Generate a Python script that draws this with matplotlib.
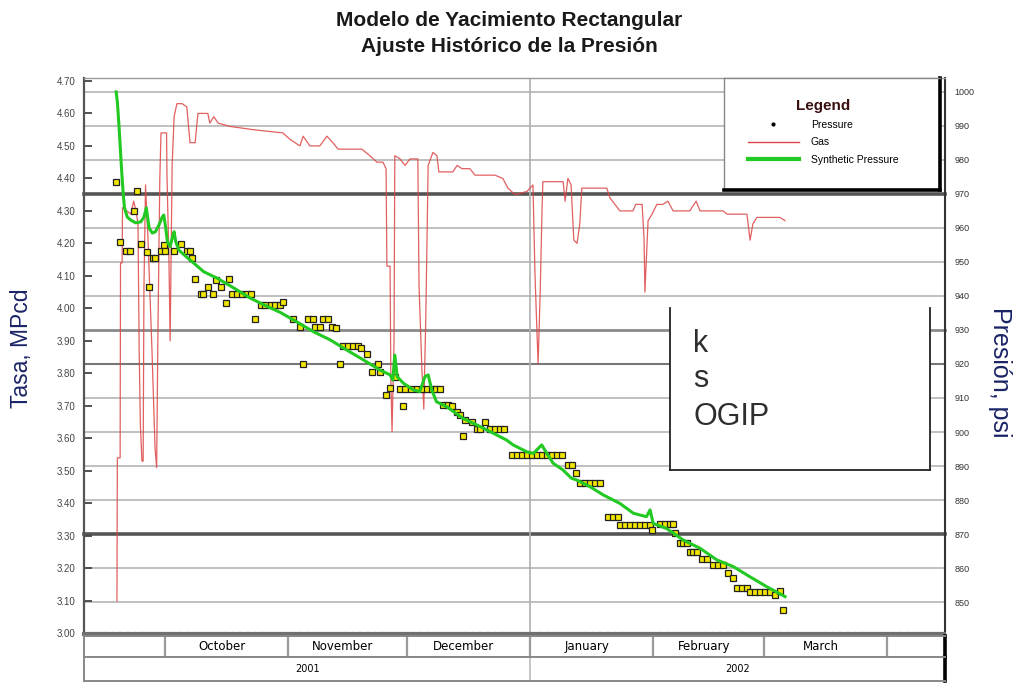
import numpy as np
import matplotlib
matplotlib.use("Agg")
import matplotlib.pyplot as plt
import matplotlib.dates as mdates
import matplotlib.transforms as mtransforms
from matplotlib.lines import Line2D

plt.rcParams["font.family"] = ["Liberation Sans", "DejaVu Sans"]

# ---------------- data ----------------
# time is counted in days from 1 October 2001
origin = "2001-10-01"

# gas rate, MPcd (left axis)
gas_days = [-12.1, -12.0, -11.3, -11.2, -10.8, -10.7, -9.6, -8.6, -7.9, -7.3,
            -6.8, -6.5, -6.2, -5.8, -5.5, -5.3, -4.9, -4.3, -3.3, -2.5,
            -2.1, -1.8, -1.3, -1.0, 0.4, 0.5, 1.0, 1.3, 1.8, 2.3,
            3.0, 4.3, 5.5, 6.3, 7.6, 8.3, 10.8, 11.3, 12.3, 13.4,
            16.4, 22.2, 29.7, 31.5, 34.0, 34.8, 36.5, 39.0, 40.8, 42.3,
            43.6, 48.4, 49.6, 51.6, 53.4, 54.9, 55.7, 55.9, 56.7, 56.9,
            57.2, 57.7, 57.9, 59.2, 60.5, 61.7, 63.7, 64.0, 64.7, 65.2,
            65.7, 66.3, 67.5, 68.5, 69.0, 72.5, 73.6, 74.8, 76.8, 78.1,
            81.9, 83.1, 85.1, 86.4, 88.2, 91.2, 92.7, 93.2, 93.7, 94.0,
            94.5, 95.0, 95.2, 100.3, 100.8, 101.5, 102.3, 103.0, 103.8, 104.5,
            105.0, 111.3, 112.1, 114.6, 117.9, 118.6, 120.2, 120.7, 120.9, 121.7,
            122.7, 123.9, 125.4, 126.7, 128.0, 130.5, 132.2, 133.8, 134.8, 140.6,
            141.6, 146.6, 147.4, 148.1, 149.1, 154.9, 156.2]
gas_rate = [3.10, 3.54, 3.54, 4.14, 4.14, 4.31, 4.30, 4.29, 4.33, 4.30,
            4.26, 3.87, 3.64, 3.53, 3.53, 4.06, 4.38, 4.22, 3.88, 3.57,
            3.51, 3.90, 4.40, 4.54, 4.54, 4.41, 4.15, 3.90, 4.44, 4.59,
            4.63, 4.63, 4.62, 4.51, 4.51, 4.60, 4.60, 4.57, 4.59, 4.57,
            4.56, 4.55, 4.54, 4.52, 4.50, 4.53, 4.50, 4.50, 4.53, 4.51,
            4.49, 4.49, 4.49, 4.47, 4.45, 4.45, 4.43, 4.13, 4.13, 3.78,
            3.62, 3.90, 4.47, 4.46, 4.44, 4.46, 4.46, 4.07, 3.82, 3.69,
            3.97, 4.44, 4.48, 4.47, 4.42, 4.42, 4.44, 4.43, 4.43, 4.41,
            4.41, 4.41, 4.40, 4.37, 4.35, 4.36, 4.38, 4.11, 3.93, 3.83,
            4.04, 4.31, 4.39, 4.39, 4.33, 4.40, 4.38, 4.21, 4.20, 4.26,
            4.37, 4.37, 4.34, 4.30, 4.30, 4.32, 4.32, 4.21, 4.05, 4.27,
            4.29, 4.32, 4.32, 4.33, 4.30, 4.30, 4.30, 4.33, 4.30, 4.30,
            4.29, 4.29, 4.21, 4.26, 4.28, 4.28, 4.27]

# synthetic (model) pressure, psi (right axis)
synth_days = [-12.3, -12.0, -11.6, -11.2, -10.9, -10.5, -10.2, -9.5, -8.7, -7.4,
              -6.1, -5.3, -4.7, -4.0, -3.2, -2.4, -1.5, -0.7, -0.3, 0.2,
              0.6, 1.3, 1.9, 2.3, 2.7, 3.5, 4.8, 7.3, 9.8, 13.2,
              17.4, 21.6, 25.8, 29.0, 33.2, 37.4, 41.6, 45.8, 50.0, 54.2,
              56.7, 57.4, 57.9, 58.5, 60.0, 62.5, 64.2, 65.5, 66.3, 67.2,
              68.4, 71.0, 75.1, 79.4, 83.6, 86.1, 87.7, 91.1, 92.8, 94.9,
              96.2, 97.8, 100.3, 102.4, 103.7, 107.1, 110.4, 114.6, 118.0, 121.3,
              122.2, 123.0, 126.4, 130.6, 134.8, 139.0, 143.2, 147.4, 151.6, 156.2]
synth_psi = [1000.0, 997.1, 990.3, 982.4, 976.5, 969.7, 965.9, 963.2, 962.4, 961.5,
             961.8, 963.2, 965.9, 960.0, 958.5, 958.9, 960.9, 963.2, 963.8, 959.9,
             956.0, 954.5, 957.4, 958.9, 956.0, 953.5, 952.1, 949.6, 947.1, 945.2,
             942.3, 939.3, 936.9, 935.2, 932.4, 929.5, 927.1, 924.1, 921.2, 918.2,
             916.8, 915.3, 922.6, 916.3, 914.4, 912.4, 911.9, 916.3, 916.8, 912.4,
             908.9, 907.4, 904.0, 901.6, 899.1, 897.6, 896.2, 894.2, 893.7, 896.2,
             893.7, 890.8, 888.8, 886.4, 885.9, 883.9, 881.5, 879.0, 876.1, 875.1,
             877.1, 873.1, 871.6, 868.2, 865.8, 862.4, 860.4, 857.4, 854.5, 851.6]

# measured pressure, psi (right axis)
press_days = [-12.3, -11.3, -9.7, -8.9, -7.8, -7.0, -6.0, -4.6, -4.0, -3.0,
              -2.4, -0.9, -0.3, -0.1, 2.3, 4.0, 5.5, 6.3, 6.9, 7.6,
              9.0, 9.5, 10.9, 12.2, 12.8, 14.0, 15.3, 16.1, 17.0, 18.2,
              19.5, 20.7, 21.6, 22.8, 24.1, 25.3, 26.6, 27.8, 29.1, 29.8,
              32.3, 34.0, 34.8, 36.1, 37.4, 37.8, 39.0, 39.9, 41.1, 42.0,
              43.1, 44.1, 44.9, 46.2, 47.4, 48.7, 49.5, 51.0, 52.1, 53.7,
              54.2, 55.8, 56.7, 57.9, 59.2, 60.0, 60.5, 62.1, 63.4, 64.7,
              65.9, 67.2, 68.4, 69.3, 70.1, 71.4, 72.2, 73.5, 74.3, 75.0,
              75.6, 77.3, 78.5, 79.3, 80.6, 81.9, 83.1, 84.4, 85.4, 87.3,
              88.6, 89.9, 91.2, 92.5, 93.7, 95.0, 96.2, 97.5, 98.7, 100.0,
              101.6, 102.5, 103.5, 104.6, 105.8, 107.1, 108.3, 109.6, 111.7, 112.9,
              114.2, 114.6, 115.9, 117.1, 118.4, 119.6, 120.9, 122.2, 122.8, 124.7,
              126.0, 127.3, 128.0, 128.5, 129.7, 130.6, 131.4, 132.2, 133.1, 133.9,
              135.2, 136.5, 138.1, 139.4, 140.6, 141.9, 143.1, 144.0, 145.3, 146.5,
              147.4, 148.7, 150.0, 151.2, 152.4, 153.7, 154.9, 155.6]
press_psi = [973.6, 956.0, 953.2, 953.2, 965.0, 970.9, 955.2, 953.0, 942.6, 951.1,
             951.1, 953.3, 955.0, 953.3, 953.3, 955.2, 953.3, 953.3, 951.3, 945.0,
             940.7, 940.7, 942.6, 940.7, 944.7, 942.7, 937.8, 945.0, 940.6, 940.6,
             940.6, 940.6, 940.6, 933.2, 937.4, 937.4, 937.4, 937.4, 937.4, 938.1,
             933.1, 930.8, 919.9, 933.1, 933.1, 931.0, 931.0, 933.1, 933.1, 930.9,
             930.5, 919.9, 925.3, 925.3, 925.3, 925.3, 924.8, 922.8, 917.7, 919.9,
             917.7, 910.9, 912.8, 916.3, 912.5, 907.6, 912.5, 912.5, 912.5, 912.5,
             912.5, 912.5, 912.5, 912.5, 907.9, 907.9, 907.6, 906.0, 905.0, 898.9,
             903.5, 903.0, 900.8, 900.8, 903.0, 900.8, 900.8, 900.8, 900.8, 893.2,
             893.2, 893.2, 893.2, 893.2, 893.2, 893.2, 893.2, 893.2, 893.2, 893.2,
             890.3, 890.3, 888.0, 885.1, 885.1, 885.1, 885.1, 885.1, 875.1, 875.1,
             875.1, 872.6, 872.6, 872.6, 872.6, 872.6, 872.6, 872.6, 871.2, 872.9,
             872.9, 872.9, 872.9, 870.4, 867.3, 867.3, 867.3, 864.8, 864.8, 864.8,
             862.6, 862.6, 860.9, 860.9, 860.9, 858.4, 857.0, 854.0, 854.0, 854.0,
             853.0, 853.0, 853.0, 853.0, 853.0, 852.1, 853.3, 847.6]

month_starts = ["2001-09-01", "2001-10-01", "2001-11-01", "2001-12-01", "2002-01-01",
                "2002-02-01", "2002-03-01", "2002-04-01", "2002-05-01"]
month_names = ["", "October", "November", "December", "January", "February", "March", ""]
year_starts = ["2001-01-01", "2002-01-01", "2003-01-01"]
year_names = ["2001", "2002"]

rate_ticks = [3.00, 3.10, 3.20, 3.30, 3.40, 3.50, 3.60, 3.70, 3.80, 3.90,
              4.00, 4.10, 4.20, 4.30, 4.40, 4.50, 4.60, 4.70]
psi_ticks = [850, 860, 870, 880, 890, 900, 910, 920, 930, 940, 950, 960, 970, 980, 990, 1000]

# ---------------- helpers ----------------
t0 = mdates.datestr2num(origin)
def to_num(days):
    return t0 + np.asarray(days, dtype=float)

W, H = 1014, 684
def box(x0, y0, x1, y1):
    return [x0 / W, 1 - y1 / H, (x1 - x0) / W, (y1 - y0) / H]

x_lo, x_hi = to_num(-20.4), to_num(196.5)

fig = plt.figure(figsize=(W / 100, H / 100), dpi=100)
fig.patch.set_facecolor("white")

ax = fig.add_axes(box(84, 78, 945, 634))
ax2 = ax.twinx()
ax.set_xlim(x_lo, x_hi)
ax.set_ylim(2.998, 4.709)
ax2.set_ylim(840.6, 1004.1)

# horizontal grid follows the pressure scale
grid_tf = mtransforms.blended_transform_factory(ax.transAxes, ax2.transData)
heavy = {970: ("#555555", 2.6), 870: ("#555555", 2.6), 930: ("#8a8a8a", 2.0), 920: ("#777777", 1.5)}
for p in psi_ticks:
    c, lw = heavy.get(p, ("#b4b4b4", 1.2))
    ax.plot([0, 1], [p, p], transform=grid_tf, color=c, lw=lw, zorder=0.5, clip_on=False)
ax.axvline(mdates.datestr2num("2002-01-01"), color="#b0b0b0", lw=1.2, zorder=0.5)

# gas rate
ax.plot(to_num(gas_days), gas_rate, color="#dd4444", lw=0.9, alpha=0.85, zorder=2)

# measured and synthetic pressure
ax2.plot(to_num(press_days), press_psi, ls="none", marker="s", ms=4.3,
         mfc="#f2e600", mec="#222222", mew=0.9, zorder=3)
ax2.plot(to_num(synth_days), synth_psi, color="#22c922", lw=2.2, zorder=4)

# axes styling
ax.set_yticks(rate_ticks)
ax.set_yticklabels([f"{v:.2f}" for v in rate_ticks])
ax.tick_params(axis="y", direction="in", length=6, width=1.3, color="#444444",
               labelsize=7, labelcolor="#444444", pad=6)
ax.set_xticks([])
ax2.set_xticks([])
ax2.set_yticks(psi_ticks)
ax2.tick_params(axis="y", length=0, labelsize=6.5, labelcolor="#333333", pad=7)
for s in ax2.spines.values():
    s.set_visible(False)
ax.spines["left"].set_color("#555555")
ax.spines["left"].set_linewidth(1.6)
ax.spines["top"].set_color("#9a9a9a")
ax.spines["top"].set_linewidth(1.0)
ax.spines["right"].set_color("#333333")
ax.spines["right"].set_linewidth(1.5)
ax.spines["bottom"].set_color("#707070")
ax.spines["bottom"].set_linewidth(3.0)
ax.spines["bottom"].set_linestyle((0, (1.2, 0.6)))

# month and year bands under the plot
band_m = fig.add_axes(box(84, 636, 945, 657))
band_y = fig.add_axes(box(84, 657, 945, 681))
for b in (band_m, band_y):
    b.set_xlim(x_lo, x_hi)
    b.set_ylim(0, 1)
    b.set_xticks([])
    b.set_yticks([])
    for side in ("left", "top", "bottom"):
        b.spines[side].set_color("#888888")
        b.spines[side].set_linewidth(1.4)
    b.spines["right"].set_color("black")
    b.spines["right"].set_linewidth(2.6)

for i, name in enumerate(month_names):
    a = mdates.datestr2num(month_starts[i])
    e = mdates.datestr2num(month_starts[i + 1])
    if x_lo < a < x_hi:
        band_m.axvline(a, color="#9a9a9a", lw=1.6)
    if name:
        band_m.text((a + e) / 2 - 1.2, 0.48, name, ha="center", va="center",
                    fontsize=8.5, color="black", family=["DejaVu Sans"])
for i, name in enumerate(year_names):
    a = max(mdates.datestr2num(year_starts[i]), x_lo)
    e = min(mdates.datestr2num(year_starts[i + 1]), x_hi)
    if x_lo < mdates.datestr2num(year_starts[i]) < x_hi:
        band_y.axvline(mdates.datestr2num(year_starts[i]), color="#bbbbbb", lw=1.2)
    band_y.text((a + e) / 2, 0.5, name, ha="center", va="center",
                fontsize=7, color="black", family=["DejaVu Sans"])

# legend panel
legax = fig.add_axes(box(724, 78, 940, 190))
legax.set_xticks([])
legax.set_yticks([])
for side in ("left", "top"):
    legax.spines[side].set_color("#888888")
    legax.spines[side].set_linewidth(1.0)
for side in ("right", "bottom"):
    legax.spines[side].set_color("black")
    legax.spines[side].set_linewidth(2.6)
handles = [Line2D([], [], ls="none", marker="o", ms=2.0, color="black"),
           Line2D([], [], color="#dd4444", lw=1.0),
           Line2D([], [], color="#22c922", lw=3.0)]
leg = legax.legend(handles, ["Pressure", "Gas", "Synthetic Pressure"],
                   loc="upper left", bbox_to_anchor=(0.037, 0.955), frameon=False,
                   fontsize=7.5, handlelength=4.9, handletextpad=1.15,
                   labelspacing=0.7, borderpad=1.0, title="Legend",
                   title_fontproperties={"size": 11, "weight": "bold"})
leg.get_title().set_color("#3a1010")

# model parameter panel
tbox = fig.add_axes(box(670, 308, 930, 470))
tbox.set_xticks([])
tbox.set_yticks([])
tbox.spines["top"].set_visible(False)
for side in ("left", "right", "bottom"):
    tbox.spines[side].set_color("#222222")
    tbox.spines[side].set_linewidth(1.3)
for label, yb in (("k", 0.728), ("s", 0.512), ("OGIP", 0.278)):
    tbox.text(0.09, yb, label, transform=tbox.transAxes, ha="left", va="baseline",
              fontsize=22, color="#2e2e2e")

# titles and axis labels
fig.text(0.502, 1 - 20 / H, "Modelo de Yacimiento Rectangular", ha="center", va="center",
         fontsize=15, fontweight="bold", color="#1a1a1a")
fig.text(0.502, 1 - 46 / H, "Ajuste Histórico de la Presión", ha="center", va="center",
         fontsize=15, fontweight="bold", color="#1a1a1a")
fig.text(22 / W, 1 - 348 / H, "Tasa, MPcd", rotation=90, ha="center", va="center",
         fontsize=16.5, color="#1b2466")
fig.text(1000 / W, 1 - 372 / H, "Presión, psi", rotation=270, ha="center", va="center",
         fontsize=18, color="#1b2466")

fig.savefig("out.png", dpi=100, facecolor="white")
